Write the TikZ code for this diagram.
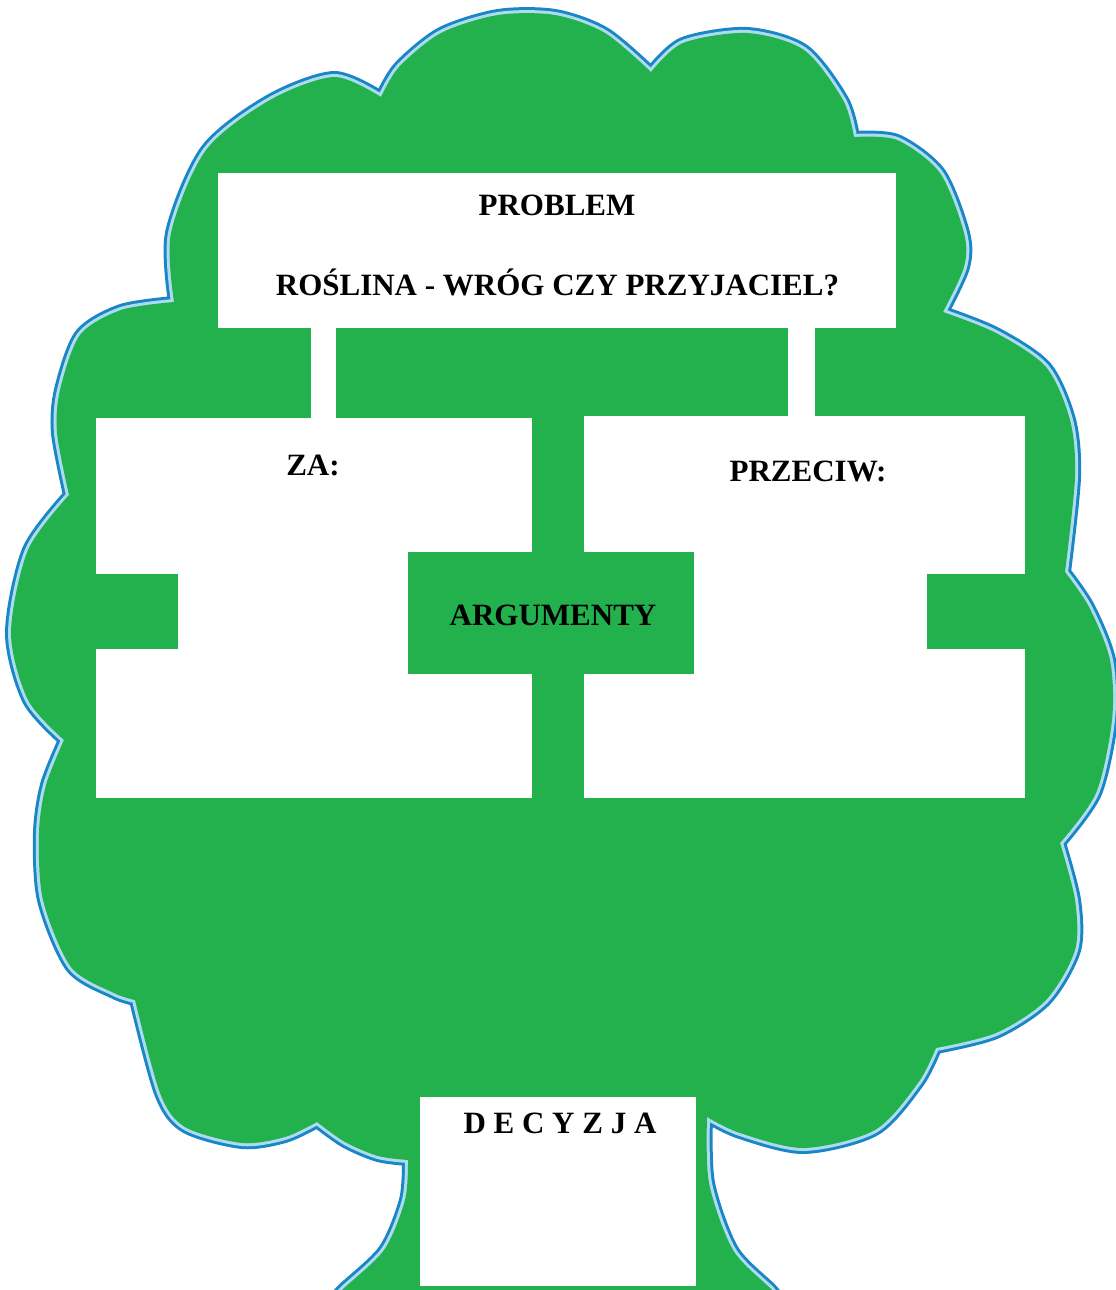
\documentclass[tikz,border=0pt]{standalone}
\usepackage{fontspec}
\setmainfont{Liberation Serif}
\definecolor{treegreen}{HTML}{23B14D}
\definecolor{rimdark}{HTML}{1B86C6}
\definecolor{rimlight}{HTML}{ADDCF0}
\begin{document}
\begin{tikzpicture}[x=1pt,y=-1pt,
  box/.style={fill=white, draw=none, inner sep=0pt, outer sep=0pt},
  gbox/.style={fill=treegreen, draw=none, inner sep=0pt, outer sep=0pt},
  lbl/.style={font=\fontsize{31}{36}\selectfont\bfseries, inner sep=0pt, anchor=base},
  bar/.style={draw=white},
  crown/.style={fill=treegreen,
    preaction={draw=rimdark, line width=12pt, line join=round},
    preaction={draw=rimlight, line width=6pt, line join=round}}]
\useasboundingbox (0,0) rectangle (1116,1290);
\begin{scope}
\clip (0,0) rectangle (1116,1290);
\path[crown]
  plot[smooth] coordinates {(381,97) (399,67) (441,33) (498,15) (555,15) (605,33) (651,72)}
  -- plot[smooth] coordinates {(651,72) (683,43) (747,33) (804,50) (843,100) (854,137)}
  -- plot[smooth] coordinates {(854,137) (897,140) (940,173) (964,233) (964,267) (943,312)}
  -- plot[smooth] coordinates {(943,312) (996,333) (1046,367) (1070,420) (1075,477) (1065,572)}
  -- plot[smooth] coordinates {(1065,572) (1089,607) (1110,660) (1112,720) (1096,793) (1060,843)}
  -- plot[smooth] coordinates {(1060,843) (1075,900) (1075,950) (1046,1000) (996,1033) (936,1048)}
  -- plot[smooth] coordinates {(936,1048) (918,1083) (875,1130) (804,1148) (740,1133) (707,1117)}
  -- plot[smooth] coordinates {(707,1117) (709,1183) (733,1250) (772,1290) (782,1305)}
  -- (330,1305)
  -- plot[smooth] coordinates {(330,1305) (342,1290) (384,1250) (405,1200) (408,1160)}
  -- plot[smooth] coordinates {(408,1160) (378,1156) (345,1142) (317,1122)}
  -- plot[smooth] coordinates {(317,1122) (285,1137) (242,1143) (185,1127) (160,1093) (135,1000)}
  -- plot[smooth] coordinates {(135,1000) (114,993) (71,967) (43,900) (39,833) (46,785) (64,740)}
  -- plot[smooth] coordinates {(64,740) (28,700) (11,633) (28,550) (69,495)}
  -- plot[smooth] coordinates {(69,495) (57,433) (60,390) (80,335) (121,310) (174,302)}
  -- plot[smooth] coordinates {(174,302) (171,233) (206,150) (270,100) (334,77) (381,97)}
  -- cycle;
\end{scope}

% boxes
\node[box, minimum width=678pt, minimum height=155pt] (problem) at (557,250.5) {};
\node[box, minimum width=436pt, minimum height=380pt] (za) at (314,608) {};
\node[box, minimum width=441pt, minimum height=382pt] (przeciw) at (804.5,607) {};
\node[gbox, minimum width=82pt, minimum height=75pt] (znotch) at (137,611.5) {};
\node[gbox, minimum width=98pt, minimum height=75pt] (pnotch) at (976,611.5) {};
\node[gbox, minimum width=286pt, minimum height=122pt] (argumenty) at (551,613) {};
\node[box, minimum width=276pt, minimum height=189pt] (decyzja) at (558,1191.5) {};

% connecting bars
\coordinate (lb) at (323.5,0);
\coordinate (rb) at (801.5,0);
\draw[bar, line width=25pt] (problem.south -| lb) -- (za.north -| lb);
\draw[bar, line width=27pt] (problem.south -| rb) -- (przeciw.north -| rb);

% labels
\node[lbl] (tproblem) at (557,215) {PROBLEM};
\node[lbl] (tquestion) at (557.5,295) {ROŚLINA - WRÓG CZY PRZYJACIEL?};
\node[lbl] (tza) at (313,475) {ZA:};
\node[lbl] (tprzeciw) at (808,481) {PRZECIW:};
\node[lbl] (targ) at (553,625) {ARGUMENTY};
\node[lbl] (tdec) at (560,1133) {D E C Y Z J A};
\end{tikzpicture}
\end{document}
